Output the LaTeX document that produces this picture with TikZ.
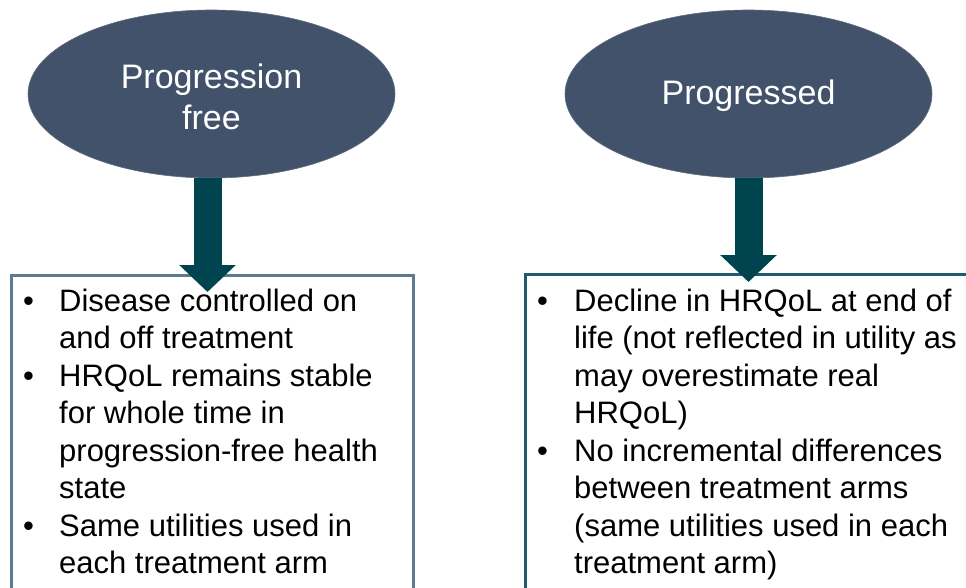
\documentclass[tikz,border=0pt]{standalone}
\usepackage{fontspec}
\setmainfont{Liberation Sans}
\usetikzlibrary{shapes.geometric}
\usetikzlibrary{arrows.meta}
\definecolor{statefill}{HTML}{42526A}
\definecolor{arrowteal}{HTML}{00444F}
\definecolor{leftframe}{HTML}{5B7B94}
\definecolor{rightframe}{HTML}{1E5B70}
\tikzset{state/.style={ellipse, fill=statefill, draw=statefill!85!white, line width=0.6pt, minimum width=367pt, minimum height=168pt, inner sep=0pt, text=white, align=center, font=\fontsize{34}{41}\selectfont},
%boxes run off the page at the bottom
infobox/.style={draw=#1, line width=3pt, fill=white, minimum width=402pt, minimum height=330pt, inner sep=0pt, anchor=north west},
infobox/.default={leftframe},
blockarrow/.style={arrowteal, line width=28pt, -{Triangle[length=27pt,width=55pt]}},
bullets/.style={anchor=base west, inner sep=0pt, font=\fontsize{31}{37.5}\selectfont}}

\begin{document}
\begin{tikzpicture}[x=1pt,y=-1pt]
\useasboundingbox (0,0) rectangle (966,588);

% boxes
\node[infobox] (pfbox) at (10,274) {};
\node[infobox=rightframe, minimum width=460pt] (pgbox) at (524,273) {};

% health states
\node[state] (pf) at (211.5,94) {};
\node[state] (pg) at (748.5,94) {};
\node[text=white, align=center, font=\fontsize{34}{41}\selectfont] (pflabel) at ([yshift=-3pt]pf.center) {Progression\\free};
\node[text=white, font=\fontsize{34}{41}\selectfont] (pglabel) at ([yshift=-2pt]pg.center) {Progressed};

% arrows
\draw[blockarrow] ([xshift=-4pt]pf.south) -- ([xshift=-4pt,yshift=-18pt]pf.south |- pfbox.north);
\draw[blockarrow] (pg.south) -- ([yshift=-9pt]pg.south |- pgbox.north);

%text
\node[bullets] (pftext) at (23,311) {\begin{tabular}[t]{@{}p{36pt}@{}l@{}}
\textbullet & Disease controlled on\\
 & and off treatment\\
\textbullet & HRQoL remains stable\\
 & for whole time in\\
 & progression-free health\\
 & state\\
\textbullet & Same utilities used in\\
 & each treatment arm
\end{tabular}};
\node[bullets] (pgtext) at (537,311) {\begin{tabular}[t]{@{}p{37pt}@{}l@{}}
\textbullet & Decline in HRQoL at end of\\
 & life (not reflected in utility as\\
 & may overestimate real\\
 & HRQoL)\\
\textbullet & No incremental differences\\
 & between treatment arms\\
 & (same utilities used in each\\
 & treatment arm)
\end{tabular}};

\end{tikzpicture}
\end{document}
